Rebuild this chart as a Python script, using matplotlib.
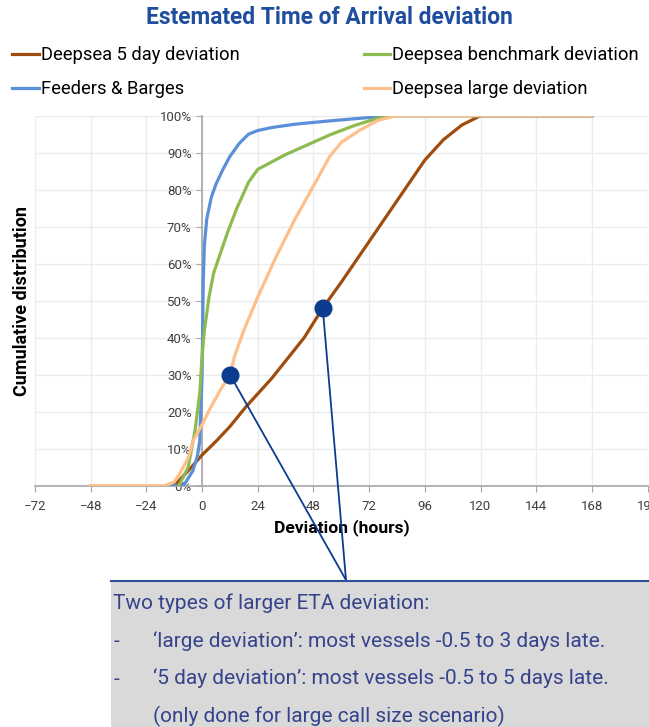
import matplotlib
matplotlib.use('Agg')
import matplotlib.pyplot as plt
from matplotlib.patches import Rectangle
from matplotlib.lines import Line2D
from matplotlib.ticker import PercentFormatter

plt.rcParams['font.family'] = ['Roboto', 'DejaVu Sans']

# Cumulative distributions (hours, share of vessels)
five_day_hours = [-14, -11, -6, 0, 6, 12, 19, 30, 44, 52, 60, 72, 84, 96, 104, 112, 120, 168]
five_day_cdf = [0, 0.7, 4, 8.3, 12, 16, 21.4, 29, 40, 48, 55, 66, 77, 88, 93.5, 97.5, 100, 100]

feeder_hours = [-16, -8, -4, -2, -1, 0, 0.5, 1, 2, 4, 6, 9, 12, 16, 20, 24, 30, 40, 55, 70, 80, 168]
feeder_cdf = [0, 0, 4, 8, 12, 30, 55, 65, 72, 78, 81.5, 85.5, 89, 92.5, 95, 96, 96.8, 97.7, 98.6, 99.4, 100, 100]

benchmark_hours = [-10, -6, -3, -1, 0, 1, 3, 5, 8, 11, 15, 20, 24, 30, 36, 45, 55, 65, 75, 82, 168]
benchmark_cdf = [0, 5, 15, 25, 35, 42, 51, 57.5, 63, 68.5, 75, 82, 85.5, 87.5, 89.5, 92, 94.8, 97.2, 99.2, 100, 100]

large_hours = [-48, -16, -12, -9.5, -6, -3.7, 0, 4, 8, 12, 14, 18, 24, 32, 40, 48, 55, 60, 68, 76, 84, 168]
large_cdf = [0, 0, 1, 3.4, 7.5, 12.3, 16.5, 21.5, 26, 30, 35, 42, 51, 62, 72, 81, 89, 92.8, 96.1, 98.8, 100, 100]

# highlighted points
marker_hours = [12, 52]
marker_cdf = [30, 48]

x_ticks = [-72, -48, -24, 0, 24, 48, 72, 96, 120, 144, 168, 192]

box_lines = [
    'Two types of larger ETA deviation:',
    '\u2018large deviation\u2019: most vessels -0.5 to 3 days late.',
    '\u20185 day deviation\u2019: most vessels -0.5 to 5 days late.',
    '(only done for large call size scenario)',
]

navy = '#0d3b8e'
W, H = 649, 727
ax_left, ax_right = 35, 647.6

fig = plt.figure(figsize=(6.49, 7.27), dpi=100)
ax = fig.add_axes([ax_left / W, 1 - 485.7 / H, (ax_right - ax_left) / W, (485.7 - 115.7) / H])

ax.plot(five_day_hours, five_day_cdf, color='#9e4d0e', lw=2.3, label='Deepsea 5 day deviation', zorder=3)
ax.plot(feeder_hours, feeder_cdf, color='#5b8fd9', lw=2.3, label='Feeders & Barges', zorder=3)
ax.plot(benchmark_hours, benchmark_cdf, color='#8dbb4f', lw=2.3, label='Deepsea benchmark deviation', zorder=3)
ax.plot(large_hours, large_cdf, color='#fdbf8c', lw=2.3, label='Deepsea large deviation', zorder=4)

ax.set_xlim(-72, 192)
ax.set_ylim(0, 100)
ax.set_xticks(x_ticks)
ax.set_yticks(range(0, 101, 10))
ax.yaxis.set_major_formatter(PercentFormatter(decimals=0))
ax.grid(True, color='#ececec', lw=1)
ax.set_axisbelow(True)

ax.spines['left'].set_position(('data', 0))
ax.spines['top'].set_visible(False)
ax.spines['right'].set_visible(False)
for s in ['left', 'bottom']:
    ax.spines[s].set_color('#a6a6a6')
    ax.spines[s].set_linewidth(1.2)
ax.tick_params(colors='#a6a6a6', labelcolor='#404040', labelsize=9.5, length=4)
ax.tick_params(axis='x', pad=6)

ax.set_xlabel('Deviation (hours)', fontsize=12.6, fontweight='bold')
ax.xaxis.set_label_coords((342 - ax_left) / (ax_right - ax_left), -0.114)
ax.xaxis.label.set_va('center')
ax.set_ylabel('Cumulative distribution', fontsize=13, fontweight='bold')
ax.yaxis.set_label_coords((22 - ax_left) / (ax_right - ax_left), 0.5)
ax.yaxis.label.set_va('center')

# highlighted points and callout lines to the box
ax.plot(marker_hours, marker_cdf, 'o', color=navy, ms=12, zorder=6, clip_on=False)
for hx, hy in zip(marker_hours, marker_cdf):
    ax.annotate('', xy=(hx, hy), xytext=(346 / W, 1 - 580 / H), textcoords='figure fraction',
                arrowprops=dict(arrowstyle='-', color=navy, lw=1.3, shrinkA=0, shrinkB=0),
                annotation_clip=False, zorder=5)

# title and legend
fig.text(329 / W, 1 - 18 / H, 'Estemated Time of Arrival deviation', ha='center', va='center',
         fontsize=16.4, fontweight='bold', color='#1f4e9f')
fig.legend(loc='upper left', bbox_to_anchor=(5 / W, 1 - 39 / H), ncol=2, frameon=False,
           fontsize=13.2, handlelength=1.45, handletextpad=0.12, columnspacing=6.75,
           labelspacing=0.86, borderaxespad=0)

# note box
fig.patches.append(Rectangle((111 / W, 0), 1 - 111 / W, 1 - 581 / H, transform=fig.transFigure,
                             facecolor='#d9d9d9', edgecolor='none', zorder=1))
fig.lines.append(Line2D([111 / W, 1], [1 - 581 / H, 1 - 581 / H], transform=fig.transFigure,
                        color='#2f4f9a', lw=1.5))
text_color = '#35438c'
fig.text(113 / W, 1 - 609 / H, box_lines[0], fontsize=15, color=text_color, va='baseline')
for i, line in enumerate(box_lines[1:]):
    base = 1 - (647 + 37.5 * i) / H
    if i < 2:
        fig.text(114 / W, base, '-', fontsize=15, color=text_color, va='baseline')
    fig.text(153 / W, base, line, fontsize=15, color=text_color, va='baseline')

fig.savefig('out.png', dpi=100)
